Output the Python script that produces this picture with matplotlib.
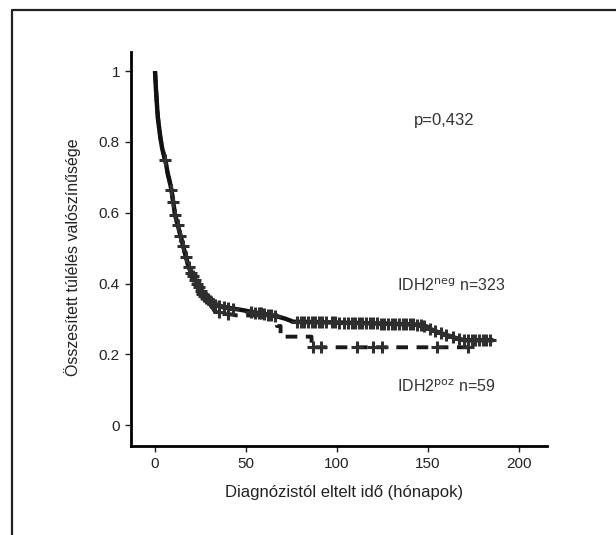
import numpy as np
import matplotlib
matplotlib.use("Agg")
import matplotlib.pyplot as plt
from matplotlib.lines import Line2D

plt.rcParams["font.family"] = ["Liberation Sans", "DejaVu Sans"]

# IDH2 negative (solid) Kaplan-Meier curve, months / survival
neg_t = [0, 0.5, 1, 1.5, 2, 3, 4, 5, 6, 7, 8, 9, 10, 11, 12, 13, 14, 15, 16, 17,
         18, 19, 20, 21, 22, 23, 24, 25, 26, 28, 30, 33, 37, 42, 48, 55, 62, 68,
         72, 76, 100, 125, 145, 149, 152, 156, 160, 163, 166, 170, 186]
neg_s = [1.0, 0.95, 0.91, 0.87, 0.85, 0.81, 0.78, 0.76, 0.74, 0.71, 0.69, 0.665,
         0.63, 0.595, 0.575, 0.555, 0.535, 0.515, 0.495, 0.475, 0.455, 0.44, 0.43,
         0.42, 0.41, 0.40, 0.39, 0.38, 0.37, 0.36, 0.35, 0.34, 0.335, 0.33, 0.325,
         0.318, 0.312, 0.306, 0.30, 0.292, 0.29, 0.287, 0.284, 0.278, 0.27, 0.262,
         0.255, 0.25, 0.245, 0.24, 0.24]
neg_cens = [5.5, 9, 10, 11, 12.5, 14, 15.5, 17, 18.5, 20, 21, 22, 23, 24, 25, 26,
            27, 28, 29, 30, 31, 32, 33, 35, 38, 40, 43, 53, 55, 57, 58, 60, 62, 64,
            66, 78, 80, 82, 84, 86, 88, 90, 92, 94, 97, 99, 101, 104, 106, 108, 110,
            112, 114, 116, 118, 120, 122, 124, 126, 128, 130, 132, 134, 136, 138,
            140, 142, 144, 146, 148, 151, 154, 157, 160, 164, 167, 170, 172, 174,
            176, 178, 180, 182, 184]

# IDH2 positive (dashed); repeated times are the vertical drops
poz_t = [0, 1, 2, 3, 5, 7, 9, 11, 13, 15, 17, 19, 21, 23, 25, 27, 30, 33, 45, 67,
         67, 69, 69, 86, 86, 172]
poz_s = [1.0, 0.91, 0.85, 0.81, 0.76, 0.71, 0.665, 0.595, 0.555, 0.515, 0.475,
         0.44, 0.42, 0.40, 0.38, 0.36, 0.345, 0.32, 0.31, 0.31, 0.28, 0.28, 0.25,
         0.25, 0.22, 0.22]
poz_cens = [35, 40, 87, 91, 111, 120, 125, 155, 172]

x_ticks = [0, 50, 100, 150, 200]
y_ticks = [0, 0.2, 0.4, 0.6, 0.8, 1]
y_tick_labels = ["0", "0.2", "0.4", "0.6", "0.8", "1"]

fig = plt.figure(figsize=(6.16, 5.35), dpi=100)
ax = fig.add_axes([131 / 616, 1 - 445.7 / 535, (547 - 131) / 616, (445.7 - 52) / 535])

ax.plot(poz_t, poz_s, color="#1a1a1a", lw=2.8, ls=(0, (3, 2.2)))
ax.plot(neg_t, neg_s, color="#111111", lw=3.2, solid_capstyle="butt")
ax.plot(neg_cens, np.interp(neg_cens, neg_t, neg_s), ls="none",
        marker="+", ms=9, mew=2.2, color="#2e2e2e")
ax.plot(poz_cens, np.interp(poz_cens, poz_t, poz_s), ls="none", marker="+",
        ms=9, mew=2.2, color="#2e2e2e")

ax.set_xlim(-13.2, 215.4)
ax.set_ylim(-0.058, 1.054)
ax.set_xticks(x_ticks)
ax.set_yticks(y_ticks)
ax.set_yticklabels(y_tick_labels)
for side in ["top", "right"]:
    ax.spines[side].set_visible(False)
for side in ["left", "bottom"]:
    ax.spines[side].set_linewidth(2)
ax.tick_params(direction="out", length=4, width=1, labelsize=11,
               colors="#222222", pad=4)

ax.text(159, 0.86, "p=0,432", ha="center", va="center", fontsize=12, color="#333333")
ax.text(133, 0.395, r"IDH2$^{\mathrm{neg}}$ n=323", ha="left", va="center",
        fontsize=11.5, color="#333333")
ax.text(133, 0.108, r"IDH2$^{\mathrm{poz}}$ n=59", ha="left", va="center",
        fontsize=11.5, color="#333333")

fig.text(344 / 616, 1 - 492 / 535, "Diagnózistól eltelt idő (hónapok)",
         ha="center", va="center", fontsize=12, color="#222222")
fig.text(73 / 616, 1 - 257 / 535, "Összesített túlélés valószínűsége",
         ha="center", va="center", rotation=90, fontsize=11.5, color="#222222")

# outer frame of the original figure
fig.add_artist(Line2D([12 / 616, 12 / 616, 1.0], [0.0, 1 - 10 / 535, 1 - 10 / 535],
                      transform=fig.transFigure, color="#222222", lw=1.6))

fig.savefig("out.png", dpi=100)
